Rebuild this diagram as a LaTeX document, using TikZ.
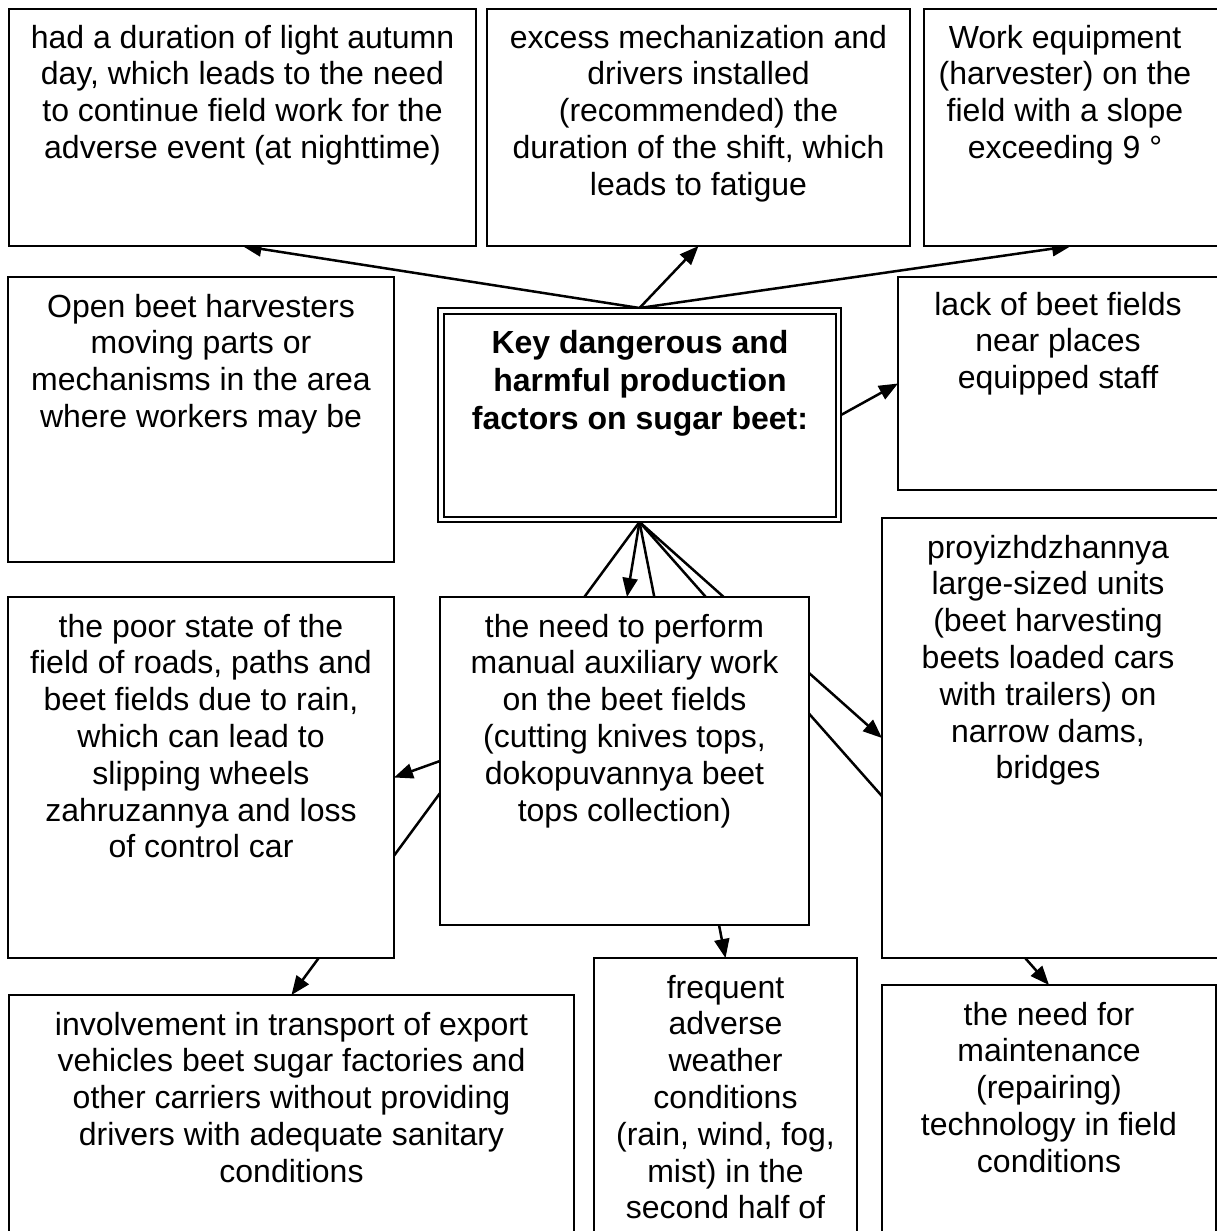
\documentclass[tikz,border=0pt]{standalone}
\usepackage{fontspec}
\setmainfont{Liberation Sans}
\usetikzlibrary{arrows.meta,backgrounds}
\tikzset{
 boxst/.style={draw, line width=2pt, fill=white, rectangle, inner sep=0pt, outer sep=0pt},
 txt/.style={align=center, inner sep=0pt, outer sep=0pt, anchor=north, font=\fontsize{32}{36.8}\selectfont},
 ctrtxt/.style={txt, font=\fontsize{32}{38}\selectfont\bfseries},
 conn/.style={line width=2.5pt},
 arr/.style={conn, -{Triangle[length=19pt,width=15pt]}},
}
\newcommand{\bx}[5]{\node[boxst, minimum width={(#4)-(#2)}, minimum height={(#5)-(#3)}] (#1) at ({((#2)+(#4))/2},{-((#3)+(#5))/2}) {};}
\newcommand{\st}{\rule{0pt}{26pt}}
\begin{document}
\begin{tikzpicture}[x=1pt,y=1pt]
\useasboundingbox (0,0) rectangle (1217,-1231);
\clip (0,0) rectangle (1217,-1231);
% boxes
\bx{tA}{9}{9}{476}{246}
\bx{tB}{487}{9}{910}{246}
\bx{tC}{924}{9}{1226}{246}
\bx{open}{8}{277}{394}{562}
\bx{lack}{898}{277}{1226}{490}
\bx{ctr}{438}{308}{841}{522}
\draw[line width=2pt] (443.5,-313.5) rectangle (835.5,-516.5);
\bx{proy}{882}{518}{1226}{958}
\bx{poor}{8}{597}{394}{958}
\bx{need}{440}{597}{809}{925}
\bx{freq}{594}{958}{857}{1250}
\bx{invol}{9}{995}{574}{1250}
\bx{maint}{882}{985}{1216}{1250}
% connectors (drawn beneath the boxes)
\begin{pgfonlayer}{background}
\draw[arr] (ctr.north) -- (tA.south);
\draw[arr] (ctr.north) -- (tB.south);
\draw[arr] (ctr.north) -- ([xshift=-4pt]tC.south);
\draw[arr] (ctr.east) -- (lack.west);
\draw[arr] (ctr.south) -- (invol.north);
\draw[arr] (ctr.south) -- ([xshift=2.5pt]need.north);
\draw[arr] (ctr.south) -- (freq.north);
\draw[arr] (ctr.south) -- (maint.north);
\draw[arr] (ctr.south) -- (proy.west);
\draw[arr] (need.west) -- (poor.east);
\end{pgfonlayer}
% texts
\node[txt] (tAt) at (242.5,-22) {\st had a duration of light autumn\\day, which leads to the need\\to continue field work for the\\adverse event (at nighttime)};
\node[txt] (tBt) at (698.5,-22) {\st excess mechanization and\\drivers installed\\(recommended) the\\duration of the shift, which\\leads to fatigue};
\node[txt] (tCt) at (1065,-22) {\st Work equipment\\(harvester) on the\\field with a slope\\exceeding 9 °};
\node[txt] (opent) at (201,-291) {\st Open beet harvesters\\moving parts or\\mechanisms in the area\\where workers may be};
\node[ctrtxt] (ctrt) at (640,-327) {\st Key dangerous and\\harmful production\\factors on sugar beet:};
\node[txt] (lackt) at (1058,-289) {\st lack of beet fields\\near places\\equipped staff};
\node[txt] (proyt) at (1048,-532) {\st proyizhdzhannya\\large-sized units\\(beet harvesting\\beets loaded cars\\with trailers) on\\narrow dams,\\bridges};
\node[txt] (poort) at (201,-611) {\st the poor state of the\\field of roads, paths and\\beet fields due to rain,\\which can lead to\\slipping wheels\\zahruzannya and loss\\of control car};
\node[txt] (needt) at (624.5,-611) {\st the need to perform\\manual auxiliary work\\on the beet fields\\(cutting knives tops,\\dokopuvannya beet\\tops collection)};
\node[txt] (freqt) at (725.5,-972) {\st frequent\\adverse\\weather\\conditions\\(rain, wind, fog,\\mist) in the\\second half of};
\node[txt] (involt) at (291.5,-1009) {\st involvement in transport of export\\vehicles beet sugar factories and\\other carriers without providing\\drivers with adequate sanitary\\conditions};
\node[txt] (maintt) at (1049,-999) {\st the need for\\maintenance\\(repairing)\\technology in field\\conditions};
\end{tikzpicture}
\end{document}
